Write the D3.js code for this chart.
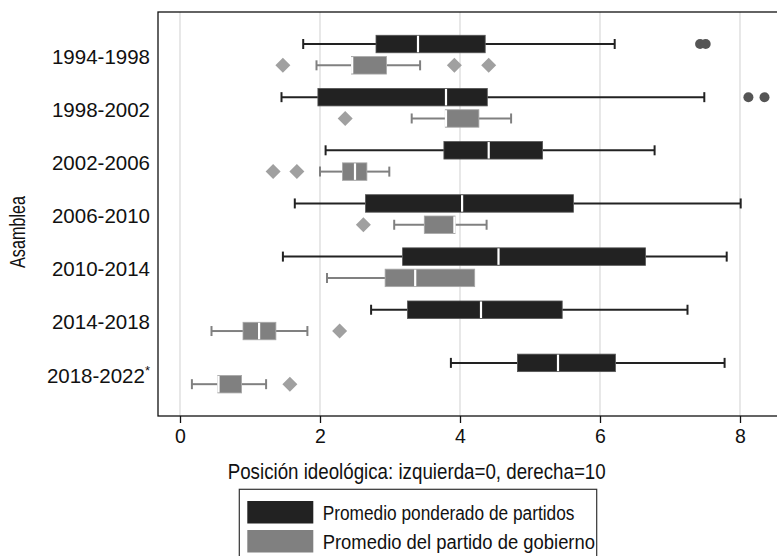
<!DOCTYPE html>
<html>
<head>
<meta charset="utf-8">
<script src="https://cdn.jsdelivr.net/npm/d3@7"></script>
<style>
  html, body { margin: 0; padding: 0; background: #fff; }
  svg { display: block; font-family: "Liberation Sans", Arial, sans-serif; }
</style>
</head>
<body>
<svg id="chart" width="777" height="556"></svg>
<script>
// ---- Data ----
const categories = ["1994-1998","1998-2002","2002-2006","2006-2010","2010-2014","2014-2018","2018-2022"];
const seriesNames = ["Promedio ponderado de partidos","Promedio del partido de gobierno"];
// [lower whisker, Q1, median, Q3, upper whisker]
const partidosStats = [
  [1.76, 2.80, 3.40, 4.36, 6.21],
  [1.45, 1.97, 3.80, 4.39, 7.49],
  [2.08, 3.77, 4.41, 5.18, 6.78],
  [1.64, 2.65, 4.03, 5.62, 8.01],
  [1.47, 3.18, 4.55, 6.65, 7.81],
  [2.73, 3.25, 4.30, 5.46, 7.25],
  [3.87, 4.82, 5.40, 6.22, 7.78]
];
const partidosOutliers = [[7.43, 7.51], [8.12, 8.35], [], [], [], [], []];
const gobiernoStats = [
  [1.95, 2.45, 2.46, 2.95, 3.43],
  [3.31, 3.79, 3.80, 4.27, 4.73],
  [2.00, 2.32, 2.50, 2.67, 2.99],
  [3.06, 3.49, 3.92, 3.93, 4.38],
  [2.10, 2.93, 3.36, 4.21, 4.21],
  [0.45, 0.90, 1.13, 1.37, 1.82],
  [0.17, 0.54, 0.55, 0.88, 1.23]
];
const gobiernoOutliers = [[1.47, 3.92, 4.41], [2.36], [1.33, 1.67], [2.62], [], [2.28], [1.57]];
const xTicks = [0, 2, 4, 6, 8];
const xTitle = "Posición ideológica: izquierda=0, derecha=10";
const yTitle = "Asamblea";

// ---- Layout ----
const svg = d3.select("#chart");
const frame = {left: 158, top: 12, right: 778, bottom: 416};
const x = d3.scaleLinear().domain([0, 8]).range([180, 740]);
const y = d3.scaleBand().domain(categories).range([28.1, 400.1]);
const sub = d3.scalePoint().domain(seriesNames).range([-10.65, 10.65]);
const boxH = 17.5;

const styles = [
  {fill: "#222222", stroke: "#555555", whisker: "#222222", outlier: "#555555"},
  {fill: "#808080", stroke: "#a8a8a8", whisker: "#808080", outlier: "#a0a0a0"}
];

// grid lines
svg.append("g").selectAll("line").data(xTicks).join("line")
  .attr("x1", d => x(d)).attr("x2", d => x(d))
  .attr("y1", frame.top).attr("y2", frame.bottom)
  .attr("stroke", "#e2e2e2").attr("stroke-width", 1.6);

// boxes
const allSeries = [
  {name: seriesNames[0], stats: partidosStats, outliers: partidosOutliers, style: styles[0], shape: "circle"},
  {name: seriesNames[1], stats: gobiernoStats, outliers: gobiernoOutliers, style: styles[1], shape: "diamond"}
];

allSeries.forEach(s => {
  const g = svg.append("g");
  categories.forEach((c, i) => {
    const cy = y(c) + y.bandwidth() / 2 + sub(s.name);
    const [lo, q1, med, q3, hi] = s.stats[i];
    g.append("line").attr("x1", x(lo)).attr("x2", x(q1)).attr("y1", cy).attr("y2", cy)
      .attr("stroke", s.style.whisker).attr("stroke-width", 2);
    g.append("line").attr("x1", x(q3)).attr("x2", x(hi)).attr("y1", cy).attr("y2", cy)
      .attr("stroke", s.style.whisker).attr("stroke-width", 2);
    [lo, hi].forEach(v => {
      if (v === q1 || v === q3) return;
      g.append("line").attr("x1", x(v)).attr("x2", x(v)).attr("y1", cy - 5).attr("y2", cy + 5)
        .attr("stroke", s.style.whisker).attr("stroke-width", 2);
    });
    g.append("rect").attr("x", x(q1)).attr("y", cy - boxH / 2)
      .attr("width", x(q3) - x(q1)).attr("height", boxH)
      .attr("fill", s.style.fill).attr("stroke", s.style.stroke).attr("stroke-width", 0.8);
    g.append("line").attr("x1", x(med)).attr("x2", x(med))
      .attr("y1", cy - boxH / 2 + 0.5).attr("y2", cy + boxH / 2 - 0.5)
      .attr("stroke", "#ffffff").attr("stroke-width", 2.2);
    s.outliers[i].forEach(v => {
      if (s.shape === "circle") {
        g.append("circle").attr("cx", x(v)).attr("cy", cy).attr("r", 5)
          .attr("fill", s.style.outlier);
      } else {
        const r = 7.5;
        g.append("path")
          .attr("d", `M${x(v)},${cy - r}L${x(v) + r},${cy}L${x(v)},${cy + r}L${x(v) - r},${cy}Z`)
          .attr("fill", s.style.outlier);
      }
    });
  });
});

// frame
svg.append("rect").attr("x", frame.left).attr("y", frame.top)
  .attr("width", frame.right - frame.left).attr("height", frame.bottom - frame.top)
  .attr("fill", "none").attr("stroke", "#111").attr("stroke-width", 1.3);

// x axis
const xAxis = svg.append("g").attr("transform", `translate(0,${frame.bottom})`)
  .call(d3.axisBottom(x).tickValues(xTicks).tickSize(7).tickPadding(6).tickFormat(d3.format("d")));
xAxis.select(".domain").remove();
xAxis.selectAll(".tick line").attr("stroke", "#111").attr("stroke-width", 1.3);
xAxis.selectAll(".tick text").attr("font-size", 19.5).attr("fill", "#111")
  .attr("font-family", "'Liberation Sans Narrow', 'Liberation Sans', Arial, sans-serif");

svg.append("text").attr("x", 416.7).attr("y", 479).attr("text-anchor", "middle")
  .attr("font-size", 21.5).attr("fill", "#111")
  .attr("textLength", 378).attr("lengthAdjust", "spacingAndGlyphs")
  .text(xTitle);

// y labels
const yl = svg.append("g");
categories.forEach((c, i) => {
  const t = yl.append("text").attr("x", 150).attr("y", y(c) + y.bandwidth() / 2 + 9)
    .attr("text-anchor", "end").attr("font-size", 20.5).attr("fill", "#111");
  if (i === categories.length - 1) {
    t.append("tspan").text(c);
    t.append("tspan").attr("font-size", 13).attr("dy", -8).text("*");
  } else {
    t.text(c);
  }
});

svg.append("text").attr("transform", "translate(25,232) rotate(-90)")
  .attr("text-anchor", "middle").attr("font-size", 21.5).attr("fill", "#111")
  .attr("textLength", 72).attr("lengthAdjust", "spacingAndGlyphs")
  .text(yTitle);

// legend
const lg = svg.append("g");
lg.append("rect").attr("x", 239.3).attr("y", 489.3).attr("width", 357.4).attr("height", 80)
  .attr("fill", "#fff").attr("stroke", "#333").attr("stroke-width", 1.2);
const legendTextLen = [251.7, 272.3];
seriesNames.forEach((n, i) => {
  const top = 501 + i * 29;
  lg.append("rect").attr("x", 247.3).attr("y", top).attr("width", 66).attr("height", 22.5)
    .attr("fill", styles[i].fill);
  lg.append("text").attr("x", 322.7).attr("y", top + 19)
    .attr("font-size", 19.5).attr("fill", "#111")
    .attr("textLength", legendTextLen[i]).attr("lengthAdjust", "spacingAndGlyphs")
    .text(n);
});
</script>
</body>
</html>
